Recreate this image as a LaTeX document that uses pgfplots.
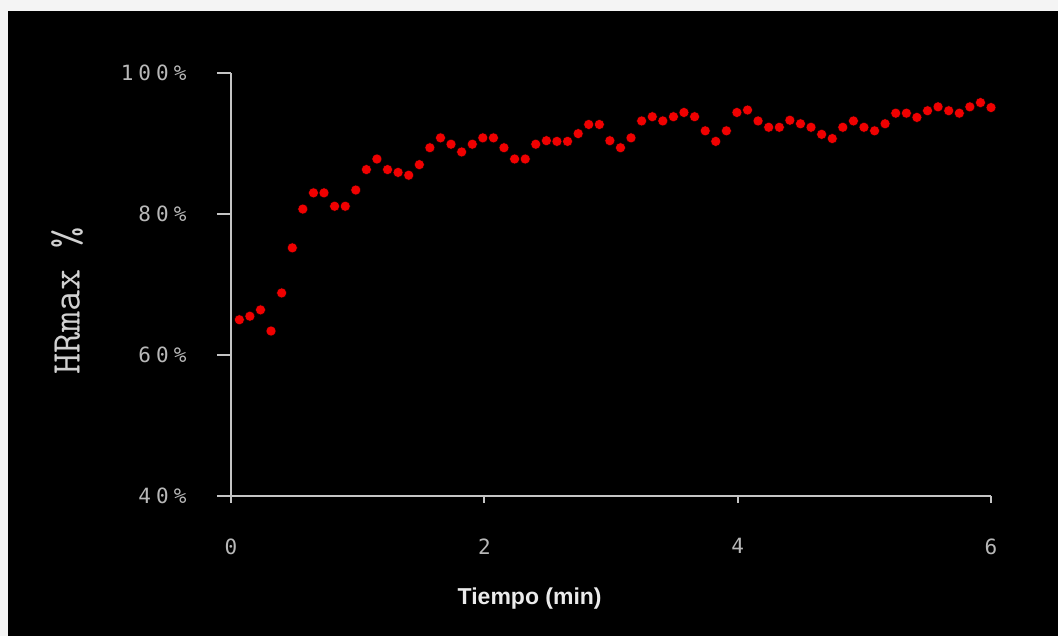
\documentclass[border=0pt]{standalone}
\usepackage{fontspec}
\usepackage{pgfplots}
\pgfplotsset{compat=1.18}
\setmainfont{Liberation Sans}
\newfontfamily\tickfont[LetterSpace=24]{DejaVu Sans Mono}
\definecolor{framegray}{HTML}{F4F4F4}
\definecolor{axisgray}{HTML}{C4C4C4}
\definecolor{ticktext}{HTML}{B8B8B8}
\definecolor{dotred}{HTML}{F00000}

\begin{document}
\begin{tikzpicture}[x=1pt,y=1pt]
% light frame and black panel behind the axis
\fill[framegray] (-231,-140) rectangle (827,496);
\fill[black] (-223,-140) rectangle (827,485);
\begin{axis}[
  at={(0,0)}, anchor=south west,
  scale only axis, width=760pt, height=423pt,
  xmin=0, xmax=6, ymin=40, ymax=100,
  axis lines=left,
  axis line style={axisgray, line width=2pt, -},
  xtick={0,2,4,6}, xticklabels={0,2,4,6},
  ytick={40,60,80,100}, yticklabels={40\%,60\%,80\%,100\%},
  tick align=outside, major tick length=14pt,
  tick style={axisgray, line width=2pt},
  xtick style={/pgfplots/major tick length=7pt},
  ticklabel style={font=\tickfont\fontsize{21}{21}\selectfont, text=ticktext},
  yticklabel style={xshift=-27pt},
  xticklabel style={yshift=-25pt},
  xlabel={Tiempo (min)},
  ylabel={HRmax \%},
  xlabel style={at={(rel axis cs:0.393,-0.2435)}, anchor=center,
    font=\bfseries\fontsize{23}{23}\selectfont, text=white!92!black},
  ylabel style={at={(rel axis cs:-0.2158,0.461)}, anchor=center,
    font=\ttfamily\fontsize{41}{41}\selectfont, text=white!82!black},
  clip=false,
]
\addplot[only marks, mark=*, mark size=5pt, mark options={fill=dotred, draw=none}] coordinates {
(0.066,65.0) (0.149,65.5) (0.233,66.4) (0.316,63.4) (0.400,68.8) (0.484,75.2)
(0.567,80.7) (0.651,83.0) (0.734,83.0) (0.818,81.1) (0.902,81.1) (0.985,83.4)
(1.069,86.3) (1.152,87.8) (1.236,86.3) (1.319,85.9) (1.403,85.5) (1.487,87.0)
(1.570,89.4) (1.654,90.8) (1.737,89.9) (1.821,88.8) (1.905,89.9) (1.988,90.8)
(2.072,90.8) (2.155,89.4) (2.239,87.8) (2.323,87.8) (2.406,89.9) (2.490,90.4)
(2.573,90.3) (2.657,90.3) (2.741,91.4) (2.824,92.7) (2.908,92.7) (2.991,90.4)
(3.075,89.4) (3.158,90.8) (3.242,93.2) (3.326,93.8) (3.409,93.2) (3.493,93.8)
(3.576,94.4) (3.660,93.8) (3.744,91.8) (3.827,90.3) (3.911,91.8) (3.994,94.4)
(4.078,94.75) (4.161,93.2) (4.245,92.3) (4.329,92.3) (4.412,93.3) (4.496,92.8)
(4.579,92.3) (4.663,91.3) (4.747,90.7) (4.830,92.3) (4.914,93.2) (4.997,92.3)
(5.081,91.8) (5.164,92.8) (5.248,94.3) (5.332,94.3) (5.415,93.7) (5.499,94.65)
(5.582,95.2) (5.666,94.65) (5.750,94.3) (5.833,95.2) (5.917,95.8) (6.000,95.1)
};
\end{axis}
\end{tikzpicture}
\end{document}
